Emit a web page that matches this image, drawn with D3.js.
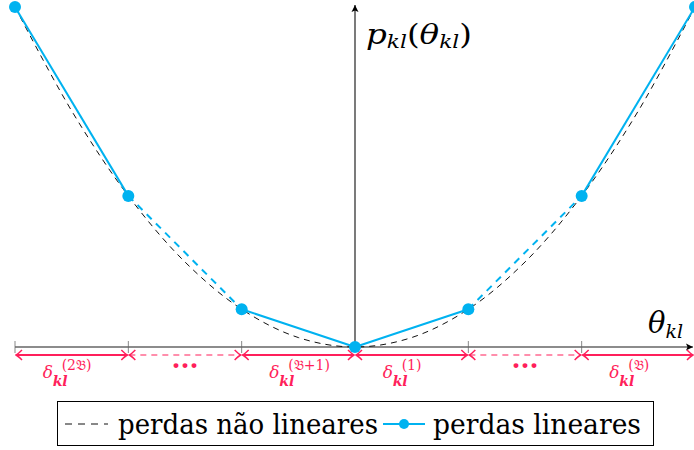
<!DOCTYPE html>
<html>
<head>
<meta charset="utf-8">
<script src="https://cdn.jsdelivr.net/npm/d3@7"></script>
<style>
  body { margin: 0; background: #fff; }
  svg { display: block; }
  svg text { font-family: "DejaVu Serif", "Liberation Serif", serif; }
</style>
</head>
<body>
<div id="chart"></div>
<script>
// breakpoints of the piecewise linear approximation
const thetaPoints = [-3, -2, -1, 0, 1, 2, 3]
const lossPoints = [9, 4, 1, 0, 1, 4, 9]
// style of every linear segment between two breakpoints
const segmentStyle = ["solid", "dashed", "solid", "solid", "dashed", "solid"]

// the nonlinear curve
const curveTheta = [-3, -2.5, -2, -1.5, -1, -0.5, 0, 0.5, 1, 1.5, 2, 2.5, 3]
const curveLoss = [9, 6.25, 4, 2.25, 1, 0.25, 0, 0.25, 1, 2.25, 4, 6.25, 9]

// labels of the intervals under the axis
const deltaSup = ["(2𝔅)", "", "(𝔅+1)", "(1)", "", "(𝔅)"]
const tickValues = [-3, -2, -1, 1, 2]
const legendLabels = ["perdas não lineares", "perdas lineares"]

const width = 694
const height = 450
const blue = "#00b2f0"
const pink = "#ff1f5b"

// scales
var xScale = d3.scaleLinear().domain([-3, 3]).range([15, 695])
var yScale = d3.scaleLinear().domain([0, 9]).range([347, 7])

var svg = d3.select("#chart")
    .append("svg")
    .attr("width", width)
    .attr("height", height)

// arrow markers
var defs = svg.append("defs")
defs.append("marker")
    .attr("id", "axisArrow")
    .attr("viewBox", "-8 -5 10 10")
    .attr("refX", 0).attr("refY", 0)
    .attr("markerWidth", 10).attr("markerHeight", 10)
    .attr("markerUnits", "userSpaceOnUse")
    .attr("orient", "auto")
  .append("path")
    .attr("d", "M-7,-3.5 L0,0 L-7,3.5 L-5.5,0 Z")
    .attr("fill", "#000")

defs.append("marker")
    .attr("id", "deltaArrow")
    .attr("viewBox", "-9 -6 10 12")
    .attr("refX", 0).attr("refY", 0)
    .attr("markerWidth", 10).attr("markerHeight", 12)
    .attr("markerUnits", "userSpaceOnUse")
    .attr("orient", "auto-start-reverse")
  .append("path")
    .attr("d", "M-6,-5 Q-2,-1 0,0 Q-2,1 -6,5")
    .attr("fill", "none")
    .attr("stroke", pink)
    .attr("stroke-width", 1.5)

// ticks on the theta axis
svg.append("g")
    .attr("class", "ticks")
  .selectAll("line")
    .data(tickValues)
    .enter()
    .append("line")
    .attr("x1", function(d) { return xScale(d) })
    .attr("x2", function(d) { return xScale(d) })
    .attr("y1", yScale(0) - 6)
    .attr("y2", yScale(0) + 6)
    .attr("stroke", "#888")
    .attr("stroke-width", 1)

// horizontal axis
svg.append("line")
    .attr("x1", xScale(-3))
    .attr("x2", 693)
    .attr("y1", yScale(0))
    .attr("y2", yScale(0))
    .attr("stroke", "#666")
    .attr("stroke-width", 1.6)
    .attr("marker-end", "url(#axisArrow)")

// vertical axis
svg.append("line")
    .attr("x1", xScale(0))
    .attr("x2", xScale(0))
    .attr("y1", yScale(0))
    .attr("y2", 5)
    .attr("stroke", "#222")
    .attr("stroke-width", 1.2)
    .attr("marker-end", "url(#axisArrow)")

// interval arrows under the axis
var intervals = d3.range(segmentStyle.length)
svg.append("g")
    .attr("class", "deltas")
  .selectAll("line")
    .data(intervals)
    .enter()
    .append("line")
    .attr("x1", function(i) { return xScale(thetaPoints[i]) + 1 })
    .attr("x2", function(i) { return xScale(thetaPoints[i + 1]) - (i == 5 ? 2 : 1) })
    .attr("y1", 355)
    .attr("y2", 355)
    .attr("stroke", pink)
    .attr("stroke-width", function(i) { return segmentStyle[i] == "solid" ? 2 : 1.2 })
    .attr("stroke-dasharray", function(i) { return segmentStyle[i] == "solid" ? null : "6,5" })
    .attr("marker-start", "url(#deltaArrow)")
    .attr("marker-end", "url(#deltaArrow)")

// labels of the intervals
function midX(i) { return (xScale(thetaPoints[i]) + xScale(thetaPoints[i + 1])) / 2 }

var labels = svg.append("g")
    .attr("class", "deltaLabels")
    .attr("fill", pink)

labels.selectAll(".dots")
    .data(intervals.filter(function(i) { return deltaSup[i] == "" }))
    .enter()
    .append("text")
    .attr("class", "dots")
    .attr("x", midX)
    .attr("y", 375)
    .attr("text-anchor", "middle")
    .attr("font-size", 26)
    .attr("font-weight", "bold")
    .text("···")

var withDelta = labels.selectAll(".delta")
    .data(intervals.filter(function(i) { return deltaSup[i] != "" }))
    .enter()
    .append("g")
    .attr("class", "delta")

withDelta.append("text")
    .attr("x", function(i) { return midX(i) - 29 })
    .attr("y", 378)
    .attr("font-size", 17)
    .attr("font-style", "italic")
    .text("δ")
withDelta.append("text")
    .attr("x", function(i) { return midX(i) - 19 })
    .attr("y", 386)
    .attr("font-size", 14)
    .attr("font-style", "italic")
    .attr("font-weight", "bold")
    .text("kl")
withDelta.append("text")
    .attr("x", function(i) { return midX(i) - 10 })
    .attr("y", 370)
    .attr("font-size", 14)
    .text(function(i) { return deltaSup[i] })

// nonlinear curve
var curveData = curveTheta.map(function(d, i) { return [d, curveLoss[i]] })
var curveLine = d3.line()
    .x(function(d) { return xScale(d[0]) })
    .y(function(d) { return yScale(d[1]) })
    .curve(d3.curveCatmullRom)

svg.append("path")
    .datum(curveData)
    .attr("d", curveLine)
    .attr("fill", "none")
    .attr("stroke", "#111")
    .attr("stroke-width", 1)
    .attr("stroke-dasharray", "6,5")

// piecewise linear segments
svg.append("g")
    .attr("class", "segments")
  .selectAll("line")
    .data(intervals)
    .enter()
    .append("line")
    .attr("x1", function(i) { return xScale(thetaPoints[i]) })
    .attr("y1", function(i) { return yScale(lossPoints[i]) })
    .attr("x2", function(i) { return xScale(thetaPoints[i + 1]) })
    .attr("y2", function(i) { return yScale(lossPoints[i + 1]) })
    .attr("stroke", blue)
    .attr("stroke-width", 2)
    .attr("stroke-dasharray", function(i) { return segmentStyle[i] == "solid" ? null : "7,6" })

// breakpoints
svg.append("g")
    .attr("class", "points")
  .selectAll("circle")
    .data(thetaPoints)
    .enter()
    .append("circle")
    .attr("cx", function(d) { return xScale(d) })
    .attr("cy", function(d, i) { return yScale(lossPoints[i]) })
    .attr("r", 6)
    .attr("fill", blue)

// axis titles
var yTitle = svg.append("text")
    .attr("x", 366)
    .attr("y", 44)
    .attr("font-size", 27)
    .attr("textLength", 106)
    .attr("lengthAdjust", "spacingAndGlyphs")
yTitle.append("tspan").attr("font-style", "italic").text("p")
yTitle.append("tspan").attr("font-style", "italic").attr("font-size", 18).attr("dy", 4).text("kl")
yTitle.append("tspan").attr("dy", -4).text("(")
yTitle.append("tspan").attr("font-style", "italic").text("θ")
yTitle.append("tspan").attr("font-style", "italic").attr("font-size", 18).attr("dy", 4).text("kl")
yTitle.append("tspan").attr("dy", -4).text(")")

var xTitle = svg.append("text")
    .attr("x", 648)
    .attr("y", 333)
    .attr("font-size", 29)
xTitle.append("tspan").attr("font-style", "italic").text("θ")
xTitle.append("tspan").attr("font-style", "italic").attr("font-size", 19).attr("dy", 5).text("kl")

// legend
var legend = svg.append("g").attr("class", "legend")
legend.append("rect")
    .attr("x", 57.5).attr("y", 401.5)
    .attr("width", 596).attr("height", 44)
    .attr("fill", "#fff")
    .attr("stroke", "#000")
    .attr("stroke-width", 1)

legend.append("line")
    .attr("x1", 65).attr("x2", 108)
    .attr("y1", 424).attr("y2", 424)
    .attr("stroke", "#111")
    .attr("stroke-dasharray", "7,6")
legend.append("line")
    .attr("x1", 383).attr("x2", 425)
    .attr("y1", 424).attr("y2", 424)
    .attr("stroke", blue)
    .attr("stroke-width", 2)
legend.append("circle")
    .attr("cx", 404).attr("cy", 424)
    .attr("r", 5)
    .attr("fill", blue)

legend.selectAll(".legendText")
    .data(legendLabels)
    .enter()
    .append("text")
    .attr("class", "legendText")
    .attr("x", function(d, i) { return i == 0 ? 118 : 433 })
    .attr("y", 434)
    .attr("font-size", 27)
    .attr("textLength", function(d, i) { return i == 0 ? 260 : 208 })
    .attr("lengthAdjust", "spacingAndGlyphs")
    .text(function(d) { return d })
</script>
</body>
</html>
